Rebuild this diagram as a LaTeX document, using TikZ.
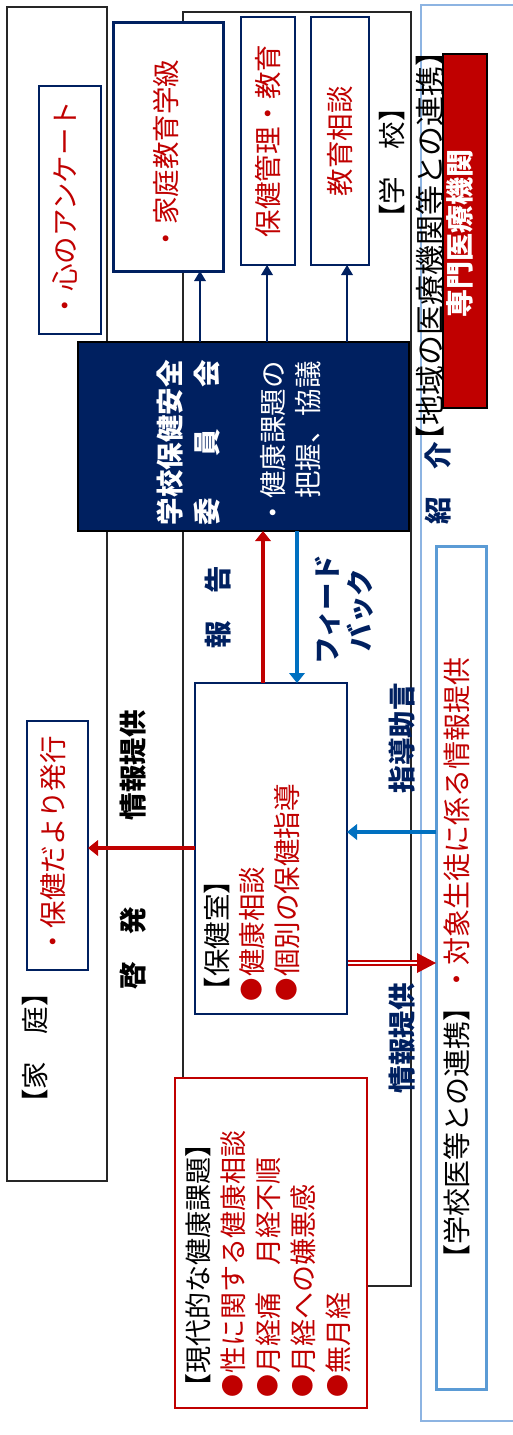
\documentclass[tikz,border=0pt]{standalone}
\usepackage{graphicx}
\usepackage{fontspec}
\setmainfont{Noto Sans CJK JP}
\usetikzlibrary{arrows.meta}
\definecolor{navy}{HTML}{002060}
\definecolor{dred}{HTML}{C00000}
\definecolor{ablue}{HTML}{0070C0}
\definecolor{lblue}{HTML}{5B9BD5}
\definecolor{olblue}{HTML}{8DB4E2}
\newcommand{\rtx}[1]{\rotatebox{90}{#1}}
\newcommand{\bul}{\makebox[1em]{\raisebox{0.06em}{\scalebox{0.85}{●}}}}
\begin{document}
\begin{tikzpicture}[x=1pt,y=-1pt,
 every node/.style={inner sep=0pt,outer sep=0pt},
 sz/.style 2 args={minimum width=#1,minimum height=#2},
 frame/.style={draw=black!85,line width=1.4pt},
 nbox/.style={draw=navy,line width=2.2pt,fill=white},
 body/.style={font=\fontsize{27.5}{35}\selectfont},
 rtxt/.style={body,text=dred},
 lbl/.style={font=\bfseries\fontsize{27.5}{33}\selectfont,text=navy},
 blk/.style={font=\bfseries\fontsize{27.5}{33}\selectfont,text=black},
 navarr/.style={draw=navy,line width=2.5pt,-{Triangle[length=10pt,width=12pt,line width=0pt]}},
 redarr/.style={draw=dred,line width=3.3pt,-{Triangle[length=10pt,width=16pt,line width=0pt]}},
 bluarr/.style={draw=ablue,line width=3.3pt,-{Triangle[length=10pt,width=16pt,line width=0pt]}}
]
\useasboundingbox (0,0) rectangle (513,1435);
% frames
\node[frame,sz={100pt}{1174pt}] (home) at (57,594) {};
\node[frame,sz={228pt}{1274pt}] (school) at (297,649) {};
\node[draw=olblue,line width=1.5pt,sz={109pt}{1416pt}] (region) at (475.5,713) {};
\node[body] (homelbl) at (35,1048) {\rtx{【家　庭】}};
\node[body] (schoollbl) at (392,163) {\rtx{【学　校】}};
\node[font=\fontsize{30}{35}\selectfont] (reglbl) at (430,246) {\rtx{【地域の医療機関等との連携】}};
% specialist
\node[draw=black,line width=2pt,fill=dred,sz={44pt}{354pt}] (senmon) at (465,231) {};
\node[font=\bfseries\fontsize{28}{33}\selectfont,text=white] (senmont) at (460,233.5) {\rtx{専門医療機関}};
% top boxes
\node[nbox,sz={62pt}{248pt}] (kokoro) at (70,210) {};
\node[rtxt] (kokorot) at (65,210) {\rtx{・心のアンケート}};
\node[nbox,line width=3pt,sz={110pt}{249pt}] (kk) at (168,146.5) {};
\node[rtxt] (kkt) at (166,156) {\rtx{・家庭教育学級}};
\node[nbox,sz={54pt}{248pt},rtxt] (hk) at (268,141) {\rtx{保健管理・教育}};
\node[nbox,sz={58pt}{248pt},rtxt] (ks) at (340,141) {\rtx{教育相談}};
% committee
\node[draw=black,line width=1.4pt,fill=navy,sz={331pt}{189pt}] (com) at (243.5,436.5) {};
\node[anchor=south west,text=white,font=\bfseries\fontsize{27.5}{37}\selectfont] (comt) at (154.5,525) {\rtx{\begin{tabular}{@{}l@{}}学校保健安全\\\hbox to 6em{委\hfill 員\hfill 会}\end{tabular}}};
\node[anchor=south west,text=white,body] (comd) at (259,526) {\rtx{\begin{tabular}{@{}l@{}}・健康課題の\\　把握、協議\end{tabular}}};
\draw[navarr] (com.north -| 200,0) -- (kk.south -| 200,0);
\draw[navarr] (com.north -| 267,0) -- (hk.south -| 267,0);
\draw[navarr] (com.north -| 347,0) -- (ks.south -| 347,0);
% labels between committee and health room
\node[lbl] (houkoku) at (218,607) {\rtx{報　告}};
\node[anchor=west,font=\bfseries\fontsize{27.5}{33}\selectfont,text=navy] (fb) at (314.4,610) {\rtx{\begin{tabular}{@{}c@{}}フィード\\バック\end{tabular}}};
% health room
\node[nbox,sz={152pt}{331pt}] (hs) at (271,848.5) {};
\node[anchor=south west,body] (hst) at (203,1004) {\rtx{\begin{tabular}{@{}l@{}}【保健室】\\\color{dred}\bul 健康相談\\\color{dred}\bul 個別の保健指導\end{tabular}}};
\draw[redarr] (hs.north -| 263,0) -- (com.south -| 263,0);
\draw[bluarr] (com.south -| 297,0) -- (hs.north -| 297,0);
% newsletter
\node[nbox,sz={61pt}{249pt}] (hd) at (57.5,845.5) {};
\node[rtxt] (hdt) at (53,846) {\rtx{・保健だより発行}};
\draw[redarr] (hs.west |- 0,848) -- (hd.east |- 0,848);
\node[blk] (joho1) at (133,765) {\rtx{情報提供}};
\node[blk] (keihatsu) at (133,948.5) {\rtx{啓　発}};
% school doctor
\node[draw=lblue,line width=3pt,sz={50pt}{843pt}] (gk) at (461,967.5) {};
\node[font=\fontsize{28}{35}\selectfont] (gkt) at (457,965) {\rtx{【学校医等との連携】\textcolor{dred}{・対象生徒に係る情報提供}}};
\draw[bluarr] (gk.west |- 0,832) -- (hs.east |- 0,832);
\node[lbl] (shido) at (402,738) {\rtx{指導助言}};
\node[lbl] (joho2) at (402,1038) {\rtx{情報提供}};
\node[lbl] (shokai) at (438,483) {\rtx{紹　介}};
\coordinate (dtip) at (gk.west |- 0,963);
\draw[dred,double=white,double distance=1.4pt,line width=2pt,shorten >=18pt,shorten <=1.2pt] (hs.east |- 0,963) -- (dtip);
\fill[dred] (dtip) -- ++(-19,-10) -- ++(0,20) -- cycle;
% modern issues
\node[draw=dred,line width=2.4pt,fill=white,sz={192pt}{330pt}] (gd) at (271,1243) {};
\node[anchor=south west,font=\fontsize{27}{35}\selectfont] (gdt) at (184,1400) {\rtx{\begin{tabular}{@{}l@{}}【現代的な健康課題】\\\color{dred}\bul 性に関する健康相談\\\color{dred}\bul 月経痛　月経不順\\\color{dred}\bul 月経への嫌悪感\\\color{dred}\bul 無月経\end{tabular}}};
\end{tikzpicture}
\end{document}
